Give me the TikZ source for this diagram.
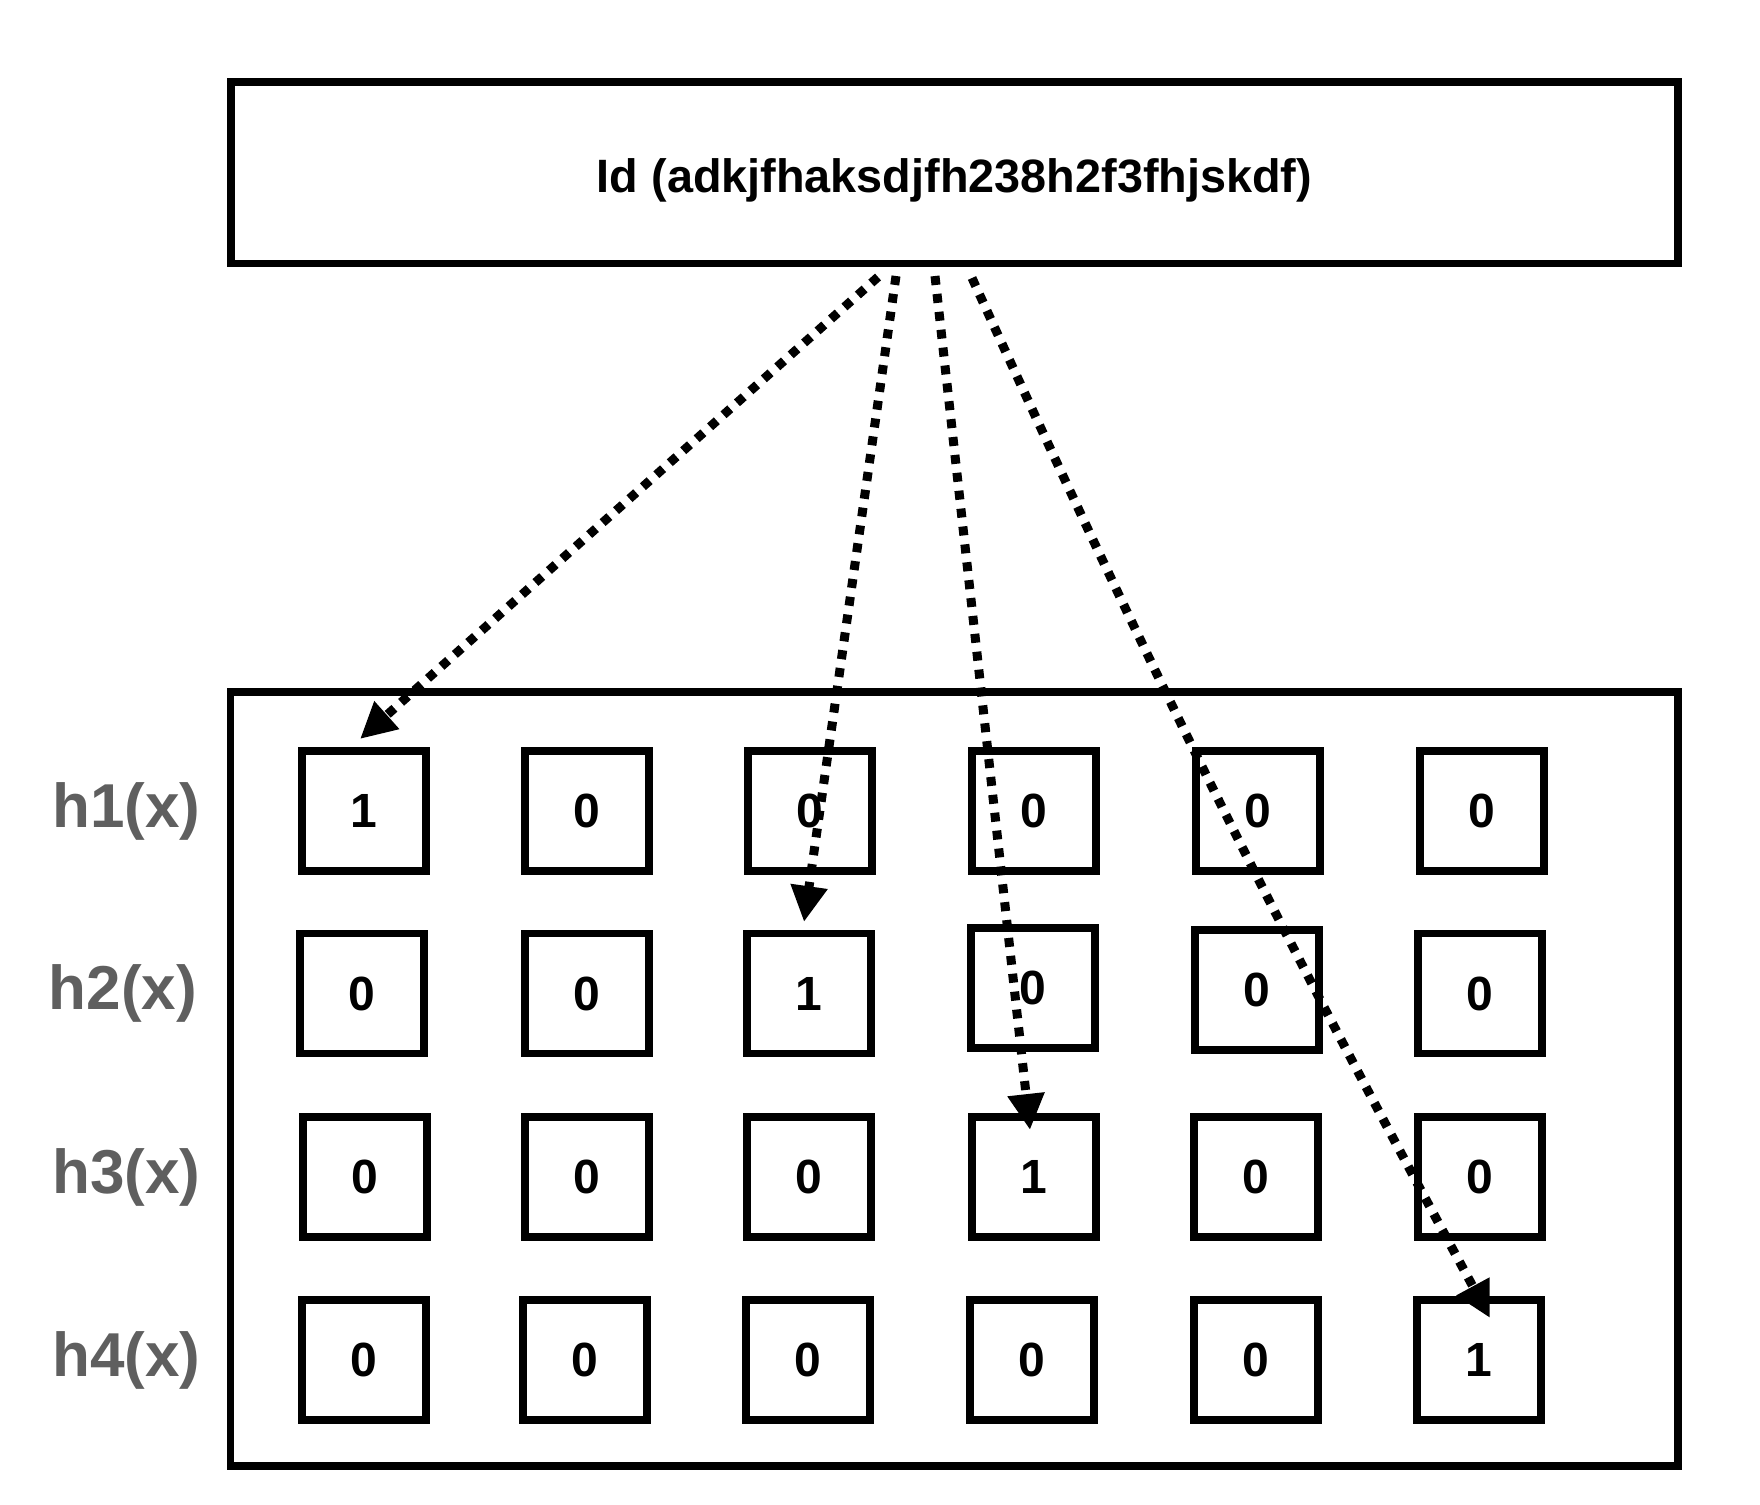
\documentclass[tikz,border=0pt]{standalone}
\usepackage{fontspec}
\setmainfont{Liberation Sans}
\usetikzlibrary{arrows.meta,positioning,calc}
\definecolor{lblgray}{HTML}{5F5F5F}
\tikzset{
  bigbox/.style={draw=black, line width=3.75pt, rectangle, inner sep=0pt},
  cellbox/.style={draw=black, line width=3.75pt, rectangle, inner sep=0pt,
    minimum width=62pt, minimum height=60pt, font=\fontsize{24}{28}\selectfont\bfseries},
  rowlabel/.style={text=lblgray, inner sep=0pt, font=\fontsize{31}{36}\selectfont\bfseries},
  hasharrow/.style={line width=4.5pt, dash pattern=on 4.5pt off 4.5pt,
    -{Triangle[length=18pt,width=17.5pt]}}
}
\begin{document}
\begin{tikzpicture}[x=0.5pt,y=-0.5pt]
\useasboundingbox (0,0) rectangle (1760,1504);
% top id box
\node[bigbox, minimum width=723.5pt, minimum height=90.75pt, text height=25pt, text depth=5pt,
  font=\fontsize{23.4}{28}\selectfont\bfseries] (id) at (954.5,172.75)
  {Id (adkjfhaksdjfh238h2f3fhjskdf)};
% bottom container
\node[bigbox, minimum width=723.75pt, minimum height=387pt] (filter) at (954.25,1079) {};
% row labels
\node[rowlabel] (l1) at (126.5,811) {h1(x)};
\node[rowlabel] (l2) at (123,993.5) {h2(x)};
\node[rowlabel] (l3) at (126.5,1177) {h3(x)};
\node[rowlabel] (l4) at (126.5,1360) {h4(x)};
% row 1
\node[cellbox] (c11) at (364,811) {1};
\node[cellbox] (c12) at (587,811) {0};
\node[cellbox] (c13) at (810,811) {0};
\node[cellbox] (c14) at (1034,811) {0};
\node[cellbox] (c15) at (1258,811) {0};
\node[cellbox] (c16) at (1482,811) {0};
% row 2
\node[cellbox] (c21) at (362,993.5) {0};
\node[cellbox] (c22) at (587,993.5) {0};
\node[cellbox] (c23) at (809,993.5) {1};
\node[cellbox] (c24) at (1033,988) {0};
\node[cellbox] (c25) at (1257,990) {0};
\node[cellbox] (c26) at (1480,993.5) {0};
% row 3
\node[cellbox] (c31) at (365,1177) {0};
\node[cellbox] (c32) at (587,1177) {0};
\node[cellbox] (c33) at (809,1177) {0};
\node[cellbox] (c34) at (1034,1177) {1};
\node[cellbox] (c35) at (1256,1177) {0};
\node[cellbox] (c36) at (1480,1177) {0};
% row 4
\node[cellbox] (c41) at (364,1360) {0};
\node[cellbox] (c42) at (585,1360) {0};
\node[cellbox] (c43) at (808,1360) {0};
\node[cellbox] (c44) at (1032,1360) {0};
\node[cellbox] (c45) at (1256,1360) {0};
\node[cellbox] (c46) at (1479,1360) {1};
% connector ends
\coordinate (s1) at (878,277);
\coordinate (s2) at (896,276);
\coordinate (s3) at (935,276);
\coordinate (s4) at (972,278);
\coordinate (t1) at (360,739);
\coordinate (t2) at (804,922);
\coordinate (t3) at (1030,1130);
\coordinate (t4) at (1490,1318);
% arrows
\draw[hasharrow] (s1) -- (t1);
\draw[hasharrow] (s2) -- (t2);
\draw[hasharrow] (s3) -- (t3);
\draw[hasharrow] (s4) to[bend right=2] (t4);
\end{tikzpicture}
\end{document}
